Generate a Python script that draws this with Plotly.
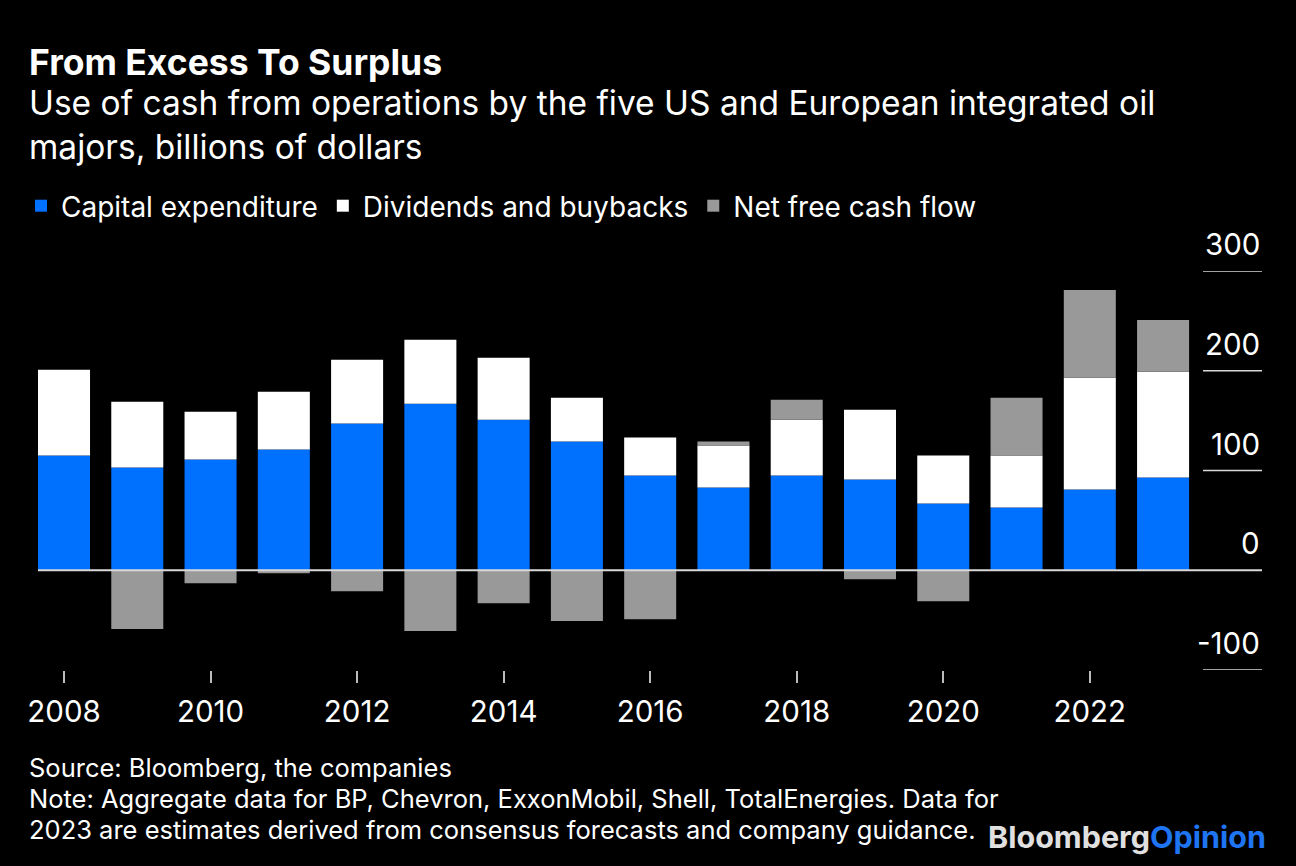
import plotly.graph_objects as go

# ---- data (billions of dollars) ----
years = list(range(2008, 2024))
capex = [115, 103, 111, 121, 147, 167, 151, 129, 95, 83, 95, 91, 67, 63, 81, 93]
dividends = [86, 66, 48, 58, 64, 64, 62, 44, 38, 42, 56, 70, 48, 52, 112, 106]
net_fcf = [0, -59, -13, -3, -21, -61, -33, -51, -49, 4, 20, -9, -31, 58, 88, 52]

x_tick_years = [2008, 2010, 2012, 2014, 2016, 2018, 2020, 2022]
y_ticks = [-100, 0, 100, 200, 300]
y_tick_labels = ["-100", "0", "100", "200", "300"]

series_names = ["Capital expenditure", "Dividends and buybacks", "Net free cash flow"]
series_colors = ["#0070ff", "#ffffff", "#999999"]

footer_lines = [
    "Source: Bloomberg, the companies",
    "Note: Aggregate data for BP, Chevron, ExxonMobil, Shell, TotalEnergies. Data for",
    "2023 are estimates derived from consensus forecasts and company guidance.",
]

FONT = "Inter, 'Liberation Sans', Arial, sans-serif"
W, H = 1296, 866
ML, MR, MT, MB = 38, 34, 271, 196
PLOT_TOP, PLOT_BOT = MT, H - MB
PLOT_W = W - ML - MR


def py(p):
    """pixel y -> paper y"""
    return (PLOT_BOT - p) / (PLOT_BOT - PLOT_TOP)


def px(p):
    """pixel x -> paper x"""
    return (p - ML) / PLOT_W


fig = go.Figure()
for name, vals, col in zip(series_names, [capex, dividends, net_fcf], series_colors):
    fig.add_trace(go.Bar(x=years, y=vals, name=name, marker=dict(color=col, line=dict(width=0))))

shapes = []
for v in y_ticks:
    if v == 0:
        shapes.append(dict(type="line", xref="paper", yref="y", x0=0, x1=1, y0=v, y1=v,
                           line=dict(color="#d9d9d9", width=2), layer="above"))
    else:
        shapes.append(dict(type="line", xref="paper", yref="y", x0=px(1203), x1=1, y0=v, y1=v,
                           line=dict(color="#d9d9d9", width=1.5), layer="above"))

annotations = []
for v, t in zip(y_ticks, y_tick_labels):
    annotations.append(dict(x=1, y=v, xref="paper", yref="y", text=t, showarrow=False,
                            xanchor="right", yanchor="bottom", yshift=7,
                            font=dict(family=FONT, size=29.5, color="#ffffff")))

annotations += [
    dict(x=px(27), y=py(62), xref="paper", yref="paper", xanchor="left", yanchor="middle",
         text="<b>From Excess To Surplus</b>", showarrow=False,
         font=dict(family=FONT, size=35.5, color="#ffffff")),
    dict(x=px(27), y=py(125), xref="paper", yref="paper", xanchor="left", yanchor="middle",
         align="left", showarrow=False,
         text="Use of cash from operations by the five US and European integrated oil<br>majors, billions of dollars",
         font=dict(family=FONT, size=33.5, color="#ffffff")),
    dict(x=px(1268), y=py(836), xref="paper", yref="paper", xanchor="right", yanchor="middle",
         showarrow=False,
         text="<b><span style='color:#e0e0e0'>Bloomberg</span><span style='color:#1f74f2'>Opinion</span></b>",
         font=dict(family=FONT, size=30.5, color="#e0e0e0")),
]
for i, line in enumerate(footer_lines):
    annotations.append(dict(x=px(27), y=py(767 + 31 * i), xref="paper", yref="paper",
                            xanchor="left", yanchor="middle", align="left", showarrow=False,
                            text=line, font=dict(family=FONT, size=25.5, color="#ffffff")))

fig.update_layout(
    width=W, height=H,
    margin=dict(l=ML, r=MR, t=MT, b=MB, pad=0),
    paper_bgcolor="#000000", plot_bgcolor="#000000",
    barmode="relative", bargap=0.29,
    font=dict(family=FONT, color="#ffffff", size=28),
    showlegend=True,
    legend=dict(orientation="h", x=px(21), xanchor="left", y=py(206), yanchor="middle",
                font=dict(family=FONT, size=28, color="#ffffff"), bgcolor="rgba(0,0,0,0)",
                traceorder="normal"),
    xaxis=dict(range=[2007.645, 2024.35], tickmode="array", tickvals=x_tick_years,
               ticktext=[str(y) for y in x_tick_years], ticks="outside", ticklen=12,
               tickwidth=2, tickcolor="#bbbbbb", showgrid=False, zeroline=False, showline=False,
               ticklabelstandoff=4,
               tickfont=dict(family=FONT, size=29.5, color="#ffffff"), fixedrange=True),
    yaxis=dict(range=[-100, 300], showgrid=False, zeroline=False, showline=False,
               showticklabels=False, ticks="", fixedrange=True),
    shapes=shapes,
    annotations=annotations,
)

fig.write_html("out.html", config={"displayModeBar": False},
               post_script="document.body.style.margin='0';document.body.style.background='#000';")
